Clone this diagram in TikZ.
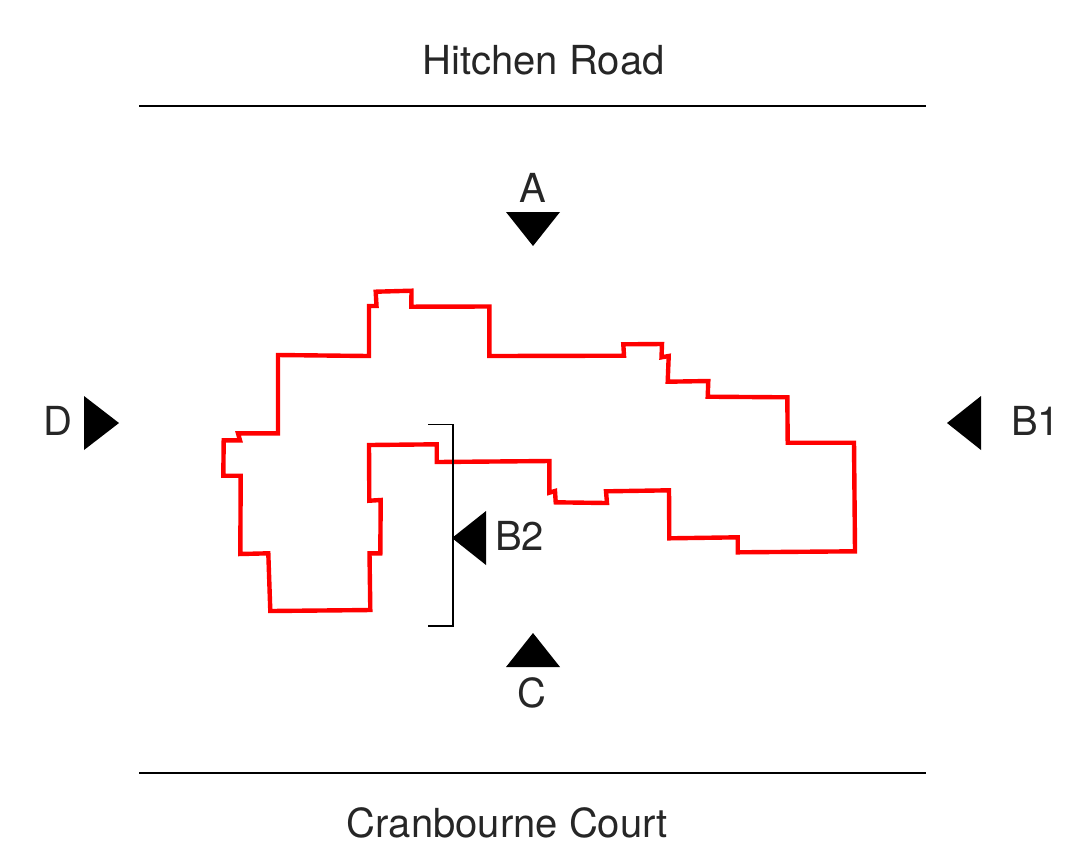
\documentclass[tikz,border=0pt]{standalone}
\usepackage{fontspec}
\setmainfont{TeX Gyre Heros}
\begin{document}
\begin{tikzpicture}[x=0.5pt,y=-0.5pt,
  road/.style={draw=black,line width=0.65pt},
  outline/.style={draw=red,line width=2.2pt,line join=miter,miter limit=2},
  marker/.style={fill=black,draw=none},
  lbl/.style={anchor=base,inner sep=0pt,font=\fontsize{20}{24}\selectfont,text=black!85}]
\useasboundingbox (0,0) rectangle (1079,858);
\draw[road] (139,106) -- (926,106);
\draw[road] (139,773) -- (926,773);
\draw[outline] (278,355) -- (369,356) -- (369,306) -- (376.5,306) -- (375.7,291.7) -- (411.5,290.7) -- (411.3,306.7) -- (489.3,306.5) -- (489.3,356) -- (624,355.7) -- (623.3,344.3) -- (662,344) -- (661.5,357.3) -- (668.7,356) -- (667.7,381.7) -- (708.3,381) -- (707.7,396.7) -- (787.3,397.3) -- (787.7,442.7) -- (854,442.7) -- (855,551.3) -- (737.7,552.3) -- (737.7,537.3) -- (669.3,538.3) -- (669,490.3) -- (606,491.3) -- (607,503) -- (555.7,502.3) -- (555,491) -- (549.3,492.7) -- (549.3,461) -- (436.7,462) -- (436.7,444.3) -- (369,445) -- (369.3,500.7) -- (380.7,500) -- (380.3,553.3) -- (369.5,553.3) -- (370.3,610) -- (270.3,611) -- (268.3,553.3) -- (240.3,554) -- (240.7,475.7) -- (223.3,475.7) -- (223.7,440.3) -- (240,440.3) -- (238,433.3) -- (278,433.3) -- cycle;
\draw[road] (428,424.5) -- (453,424.5) -- (453,626) -- (428,626);
\fill[marker] (506,212) -- (560,212) -- (533,246) -- cycle;
\fill[marker] (506,667) -- (560,667) -- (533,633) -- cycle;
\fill[marker] (84,396) -- (84,450) -- (119,423) -- cycle;
\fill[marker] (981,396) -- (981,450) -- (947,423) -- cycle;
\fill[marker] (486,511) -- (486,565) -- (452,538) -- cycle;
\node[lbl] (hitchen) at (543.5,74) {Hitchen Road};
\node[lbl] (cranbourne) at (507.5,837) {Cranbourne Court};
\node[lbl] (a) at (533,202.5) {A};
\node[lbl] (c) at (532,707) {C};
\node[lbl] (d) at (58,435.5) {D};
\node[lbl] (bone) at (1035.5,435.5) {B1};
\node[lbl] (btwo) at (519.5,550) {B2};
\end{tikzpicture}
\end{document}
